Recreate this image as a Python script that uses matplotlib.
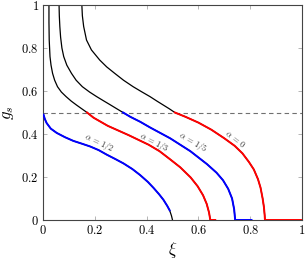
import matplotlib
matplotlib.use("Agg")
import matplotlib.pyplot as plt

plt.rcParams['mathtext.fontset'] = 'cm'
plt.rcParams['font.family'] = 'serif'
plt.rcParams['font.serif'] = ['DejaVu Serif']

# alpha = 1/2 (starts right on the dashed line)
xi_a2 = [0.0, 0.002, 0.007, 0.014, 0.03, 0.053, 0.085, 0.117, 0.15, 0.182, 0.215, 0.246,
         0.28, 0.311, 0.345, 0.375, 0.405, 0.427, 0.448, 0.465, 0.48, 0.489, 0.496, 0.5]
g_a2 = [0.5, 0.49, 0.47, 0.451, 0.425, 0.405, 0.385, 0.368, 0.355, 0.342, 0.325, 0.304,
        0.283, 0.263, 0.237, 0.209, 0.177, 0.149, 0.12, 0.094, 0.065, 0.045, 0.02, 0.0]

# alpha = 1/3
xi_a3_up = [0.023, 0.023, 0.024, 0.027, 0.031, 0.037, 0.045, 0.056, 0.071, 0.089, 0.109, 0.129, 0.15, 0.17]
g_a3_up = [1.0, 0.92, 0.837, 0.76, 0.72, 0.682, 0.65, 0.62, 0.595, 0.574, 0.553, 0.535, 0.517, 0.5]
xi_a3_lo = [0.17, 0.195, 0.25, 0.33, 0.408, 0.45, 0.491, 0.53, 0.57, 0.597, 0.618, 0.632, 0.641, 0.646]
g_a3_lo = [0.5, 0.476, 0.438, 0.395, 0.35, 0.32, 0.282, 0.245, 0.198, 0.157, 0.115, 0.075, 0.035, 0.0]
xi_a3_end = 0.665

# alpha = 1/5
xi_a5_up = [0.062, 0.063, 0.065, 0.068, 0.073, 0.08, 0.092, 0.11, 0.128, 0.152, 0.18, 0.207,
            0.233, 0.258, 0.284, 0.309]
g_a5_up = [1.0, 0.95, 0.9, 0.85, 0.8, 0.76, 0.72, 0.682, 0.65, 0.62, 0.595, 0.574,
           0.555, 0.537, 0.518, 0.5]
xi_a5_lo = [0.309, 0.337, 0.375, 0.414, 0.491, 0.569, 0.633, 0.67, 0.695, 0.715, 0.73, 0.738, 0.742]
g_a5_lo = [0.5, 0.48, 0.457, 0.43, 0.38, 0.32, 0.26, 0.22, 0.185, 0.145, 0.1, 0.05, 0.0]
xi_a5_end = 0.805

# alpha = 0
xi_a0_up = [0.15, 0.152, 0.157, 0.168, 0.187, 0.219, 0.246, 0.277, 0.311, 0.348, 0.38,
            0.413, 0.44, 0.464, 0.488, 0.509]
g_a0_up = [1.0, 0.95, 0.9, 0.837, 0.791, 0.744, 0.712, 0.682, 0.65, 0.62, 0.597,
           0.574, 0.553, 0.535, 0.517, 0.5]
xi_a0_lo = [0.509, 0.55, 0.6, 0.65, 0.7, 0.74, 0.77, 0.795, 0.814, 0.83, 0.84, 0.848, 0.853, 0.856, 0.857]
g_a0_lo = [0.5, 0.48, 0.453, 0.42, 0.38, 0.345, 0.31, 0.27, 0.235, 0.19, 0.15, 0.1, 0.06, 0.02, 0.0]
xi_a0_end = 1.0

g_crit = 0.5
ticks = [0, 0.2, 0.4, 0.6, 0.8, 1]
tick_labels = ['$0$', '$0.2$', '$0.4$', '$0.6$', '$0.8$', '$1$']

fig = plt.figure(figsize=(3.05, 2.61), dpi=100)
ax = fig.add_axes([43/305, 1-220/261, 259/305, 215/261])

ax.axhline(g_crit, color='#707070', lw=0.8, ls=(0, (4, 3)), zorder=1)

# full curves in black underneath
ax.plot(xi_a2, g_a2, color='black', lw=0.9, zorder=2)
ax.plot(xi_a3_up + xi_a3_lo, g_a3_up + g_a3_lo, color='black', lw=0.9, zorder=2)
ax.plot(xi_a5_up + xi_a5_lo, g_a5_up + g_a5_lo, color='black', lw=0.9, zorder=2)
ax.plot(xi_a0_up + xi_a0_lo, g_a0_up + g_a0_lo, color='black', lw=0.9, zorder=2)

# coloured parts below g = 0.5
ax.plot(xi_a2[1:-2], g_a2[1:-2], color='blue', lw=1.4, zorder=3)
ax.plot(xi_a3_lo + [xi_a3_end], g_a3_lo + [0.0], color='red', lw=1.4, zorder=3)
ax.plot(xi_a5_lo + [xi_a5_end], g_a5_lo + [0.0], color='blue', lw=1.4, zorder=3)
ax.plot(xi_a0_lo + [xi_a0_end], g_a0_lo + [0.0], color='red', lw=1.4, zorder=3)

lab_kw = dict(fontsize=6, color='#333333', ha='center', va='center', rotation_mode='anchor')
ax.text(0.214, 0.36, r'$\alpha\,=\,1/2$', rotation=-25, **lab_kw)
ax.text(0.427, 0.36, r'$\alpha\,=\,1/3$', rotation=-27, **lab_kw)
ax.text(0.578, 0.362, r'$\alpha\,=\,1/5$', rotation=-30, **lab_kw)
ax.text(0.742, 0.378, r'$\alpha\,=\,0$', rotation=-37, **lab_kw)

ax.set_xlim(0, 1)
ax.set_ylim(0, 1)
ax.set_xticks(ticks)
ax.set_xticklabels(tick_labels)
ax.set_yticks(ticks)
ax.set_yticklabels(tick_labels)
ax.tick_params(direction='in', length=3, width=0.5, color='#999999', labelsize=9,
               top=True, right=True, pad=3)
for s in ax.spines.values():
    s.set_color('#444444')
    s.set_linewidth(0.8)

ax.set_xlabel(r'$\xi$', fontsize=12)
ax.xaxis.set_label_coords(0.5, -0.095)
ax.set_ylabel(r'$g_s$', fontsize=12)
ax.yaxis.set_label_coords(-0.105, 0.5)

fig.savefig('out.png', dpi=100)
